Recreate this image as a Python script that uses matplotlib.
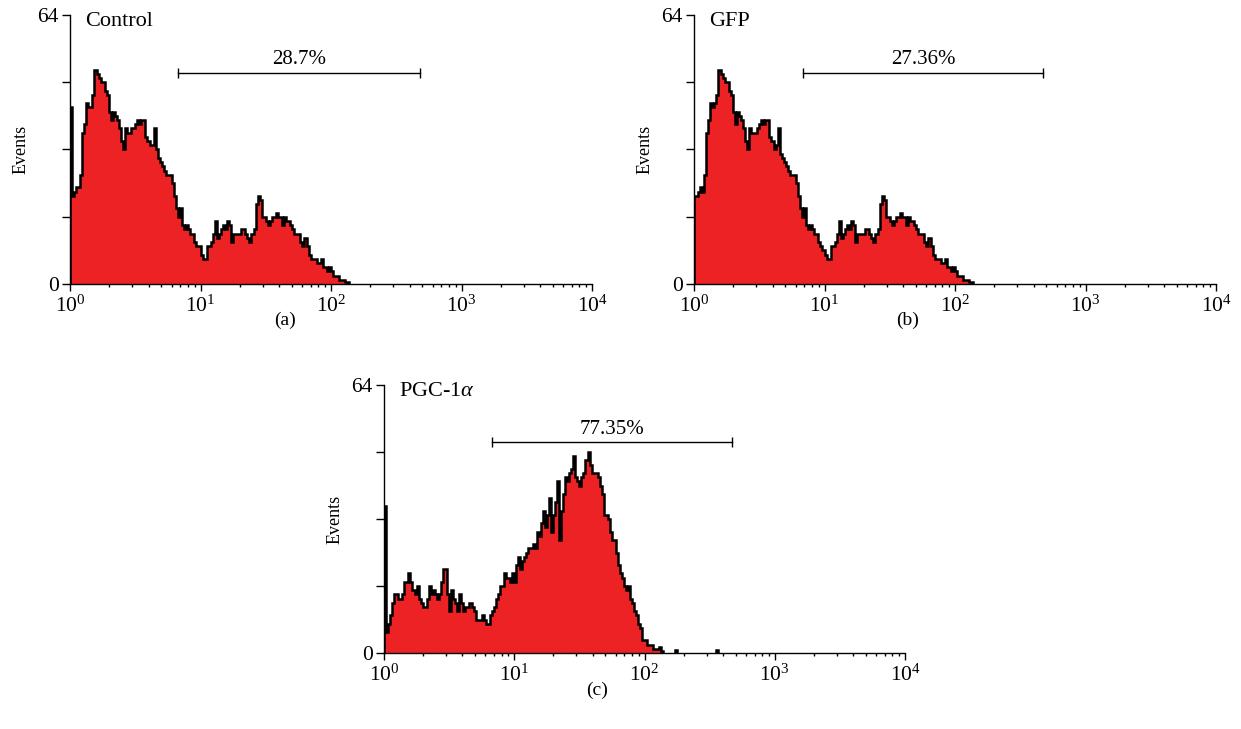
import numpy as np
import matplotlib
matplotlib.use("Agg")
import matplotlib.pyplot as plt

plt.rcParams['font.family'] = 'serif'
plt.rcParams['font.serif'] = ['Liberation Serif', 'DejaVu Serif']
plt.rcParams['mathtext.fontset'] = 'custom'
plt.rcParams['mathtext.rm'] = 'Liberation Serif'
plt.rcParams['mathtext.it'] = 'Liberation Serif:italic'

## 256 channels over 4 decades; counts per channel
n_channels = 256
n_decades = 4

control_counts = [42, 21, 22, 23, 23, 26, 36, 38, 43, 42, 42, 45, 51, 50, 49, 48,
                  48, 46, 45, 41, 39, 41, 40, 39, 37, 34, 32, 37, 36, 36, 37, 37,
                  38, 39, 38, 39, 39, 35, 34, 33, 33, 37, 32, 30, 29, 28, 27, 26,
                  26, 26, 24, 21, 18, 16, 18, 14, 13, 14, 13, 12, 12, 10, 9, 9,
                  7, 6, 6, 9, 9, 10, 12, 15, 11, 12, 13, 14, 13, 15, 14, 10,
                  12, 12, 12, 12, 13, 13, 12, 11, 10, 12, 13, 19, 21, 20, 16, 16,
                  15, 14, 15, 16, 16, 17, 16, 16, 14, 16, 15, 15, 14, 13, 12, 12,
                  12, 10, 9, 11, 9, 7, 6, 6, 6, 5, 5, 6, 4, 4, 3, 4,
                  3, 2, 2, 2, 1, 1, 1, 0.5, 0.5]

gfp_counts = [21, 21, 22, 23, 22, 26, 36, 39, 43, 42, 43, 45, 51, 50, 49, 48,
              48, 46, 45, 41, 38, 41, 40, 39, 37, 34, 32, 37, 36, 36, 36, 37,
              38, 39, 38, 39, 39, 35, 34, 32, 33, 37, 31, 30, 29, 28, 27, 26,
              26, 26, 24, 21, 18, 16, 18, 14, 13, 14, 13, 12, 12, 10, 9, 8,
              7, 6, 6, 9, 9, 10, 12, 15, 11, 12, 13, 14, 13, 15, 14, 10,
              12, 12, 12, 12, 13, 13, 12, 11, 10, 12, 13, 19, 21, 20, 16, 16,
              15, 14, 15, 16, 16, 17, 16, 16, 14, 16, 15, 15, 14, 13, 12, 12,
              12, 10, 9, 11, 9, 7, 6, 6, 6, 5, 5, 6, 4, 4, 3, 4,
              3, 2, 2, 2, 1, 1, 1, 0.5, 0.5]

pgc_counts = [35, 5, 7, 9, 12, 14, 14, 13, 13, 14, 17, 17, 19, 17, 15, 14,
              16, 13, 12, 11, 11, 13, 16, 14, 15, 14, 13, 14, 17, 20, 20, 14,
              10, 15, 13, 12, 10, 14, 12, 10, 11, 11, 12, 11, 10, 8, 8, 8,
              9, 8, 7, 7, 9, 10, 11, 13, 14, 16, 16, 19, 18, 18, 17, 19,
              17, 21, 23, 20, 22, 23, 24, 25, 25, 26, 25, 29, 28, 31, 34, 30,
              33, 37, 29, 33, 36, 41, 27, 34, 38, 42, 41, 43, 44, 47, 42, 41,
              40, 42, 43, 46, 48, 45, 43, 43, 43, 42, 40, 38, 33, 33, 32, 29,
              27, 27, 24, 21, 19, 18, 16, 15, 16, 13, 12, 10, 9, 7, 6, 3,
              3, 2, 2, 2, 1, 1, 1, 1.5, 0.5]
pgc_tail_channels = [143, 163]
pgc_tail_counts = [0.6, 0.8]

titles = ['Control', 'GFP', r'PGC-1$\alpha$']
gate_labels = ['28.7%', '27.36%', '77.35%']
gate_ranges = [(6.7, 480), (6.8, 475), (6.7, 470)]
gate_y = 50.3
panel_labels = ['(a)', '(b)', '(c)']

fill_red = '#ED2224'

def full_counts(counts, tail_ch=(), tail_val=()):
    c = np.zeros(n_channels)
    c[:len(counts)] = counts
    for ch, v in zip(tail_ch, tail_val):
        c[ch] = v
    return c

def draw_outline(ax, counts, edges):
    # outline each run of non-empty channels so the zero part stays clean
    nz = counts > 0
    i = 0
    while i < len(counts):
        if nz[i]:
            j = i
            while j < len(counts) and nz[j]:
                j += 1
            ax.stairs(counts[i:j], edges[i:j + 1], color='black', lw=1.8)
            i = j
        else:
            i += 1

edges = 10 ** (np.arange(n_channels + 1) * n_decades / n_channels)

data = [full_counts(control_counts),
        full_counts(gfp_counts),
        full_counts(pgc_counts, pgc_tail_channels, pgc_tail_counts)]

fig = plt.figure(figsize=(12.41, 7.29), dpi=100)
W, H = 1241, 729
# pixel boxes (left, top, right, bottom)
boxes = [(70, 15, 592, 284), (694, 15, 1216, 284), (384, 385, 905, 653)]
label_pos = [(285, 320), (908, 320), (597, 690)]

for i in range(3):
    l, t, r, b = boxes[i]
    ax = fig.add_axes([l / W, 1 - b / H, (r - l) / W, (b - t) / H])
    ax.stairs(data[i], edges, fill=True, color=fill_red, lw=0)
    draw_outline(ax, data[i], edges)
    ax.set_xscale('log')
    ax.set_xlim(1, 1e4)
    ax.set_ylim(0, 64)
    ax.spines['top'].set_visible(False)
    ax.spines['right'].set_visible(False)
    ax.spines['left'].set_linewidth(1.0)
    ax.spines['bottom'].set_linewidth(1.0)
    ax.spines['left'].set_zorder(3)
    ax.spines['bottom'].set_zorder(3)
    ax.set_yticks([0, 16, 32, 48, 64])
    ax.set_yticklabels(['0', '', '', '', '64'])
    ax.set_xticks([1, 10, 100, 1000, 10000])
    ax.tick_params(axis='y', length=6, width=1.0, labelsize=15.5, pad=2)
    ax.tick_params(axis='x', which='major', length=5, width=1.0, labelsize=15.5, pad=3)
    ax.tick_params(axis='x', which='minor', length=2.5, width=1.0)
    ax.set_ylabel('Events', fontsize=13, labelpad=6)

    ax.text(0.029, 0.975, titles[i], transform=ax.transAxes, fontsize=16,
            ha='left', va='center')
    x0, x1 = gate_ranges[i]
    ax.plot([x0, x1], [gate_y, gate_y], color='black', lw=1.0)
    ax.plot([x0, x1], [gate_y, gate_y], ls='none', marker='|', ms=7,
            mew=1.0, color='black')
    ax.text(np.sqrt(x0 * x1), gate_y + 0.8, gate_labels[i], fontsize=15,
            ha='center', va='bottom')

    px, py = label_pos[i]
    fig.text(px / W, 1 - py / H, panel_labels[i], fontsize=14,
             ha='center', va='center')

fig.savefig('out.png', dpi=100)
